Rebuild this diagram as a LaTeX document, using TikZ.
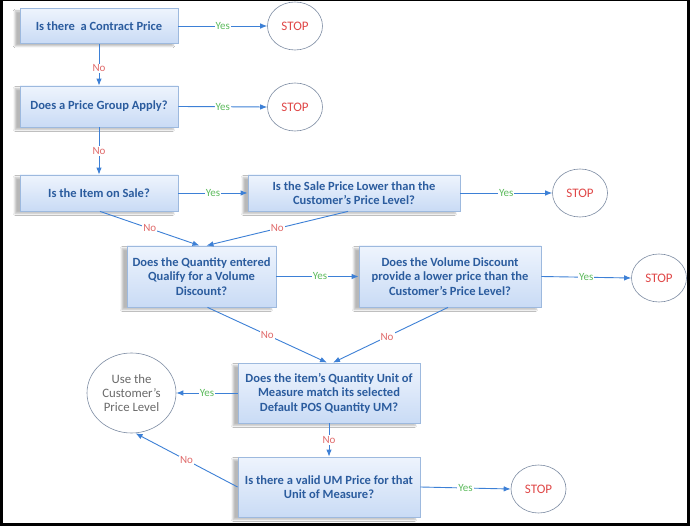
\documentclass[tikz,border=0pt]{standalone}
\usepackage{fontspec}
\setmainfont{Carlito}
\usetikzlibrary{arrows.meta,calc,shapes.geometric,shadows.blur}
\definecolor{boxtext}{HTML}{2B5C9E}
\definecolor{boxline}{HTML}{9DB9DE}
\definecolor{boxtop}{HTML}{EEF4FD}
\definecolor{boxbot}{HTML}{C9DBF5}
\definecolor{arrowc}{HTML}{3D80D6}
\definecolor{yesc}{HTML}{5DBB5D}
\definecolor{noc}{HTML}{E06A6A}
\definecolor{stopc}{HTML}{E04848}
\definecolor{circline}{HTML}{7D8CA3}
\definecolor{usetext}{HTML}{6A6A6A}
\begin{document}
\begin{tikzpicture}[x=1pt,y=-1pt,
  qbox/.style={draw=boxline, line width=0.8pt, top color=boxtop, bottom color=boxbot,
    minimum width=#1, inner sep=2pt, align=center, text=boxtext,
    font=\bfseries\fontsize{12.5}{14.5}\selectfont,
    blur shadow={shadow xshift=-5pt, shadow yshift=-2.5pt, shadow opacity=28, shadow blur steps=6}},
  stopnode/.style={draw=circline, line width=0.6pt, ellipse, fill=white,
    minimum width=55pt, minimum height=48pt, text=stopc, font=\fontsize{13}{14}\selectfont},
  conn/.style={draw=arrowc, line width=0.9pt, -{Latex[length=7pt,width=5.5pt]}},
  yes/.style={fill=white, text=yesc, inner sep=1pt, font=\fontsize{11}{12}\selectfont},
  no/.style={fill=white, text=noc, inner sep=1pt, font=\fontsize{11}{12}\selectfont}]
\useasboundingbox (0,0) rectangle (690,526);
\fill[black] (0,0) rectangle (690,526);
\fill[white] (3,1.5) rectangle (687,522.5);

\node[qbox=158pt, minimum height=35pt] (b1) at (99,26) {Is there\ \ a Contract Price};
\node[stopnode] (s1) at (295,26) {STOP};
\node[qbox=158pt, minimum height=41pt] (b2) at (99,106.5) {Does a Price Group Apply?};
\node[stopnode] (s2) at (295,107) {STOP};
\node[qbox=158pt, minimum height=36pt] (b3) at (99,193) {Is the Item on Sale?};
\node[qbox=212pt, minimum height=36pt] (b4) at (354,193) {Is the Sale Price Lower than the\\Customer’s Price Level?};
\node[stopnode] (s3) at (580,193) {STOP};
\node[qbox=149pt, minimum height=61pt] (b5) at (201.5,276.5) {Does the Quantity entered\\Qualify for a Volume\\Discount?};
\node[qbox=182pt, minimum height=61pt] (b6) at (450,276.5) {Does the Volume Discount\\provide a lower price than the\\Customer’s Price Level?};
\node[stopnode] (s4) at (659,278) {STOP};
\node[qbox=182pt, minimum height=60pt] (b7) at (329,393) {Does the item’s Quantity Unit of\\Measure match its selected\\Default POS Quantity UM?};
\node[draw=circline, line width=0.6pt, ellipse, fill=white, minimum width=89pt, minimum height=80pt, inner sep=0pt,
  align=center, text=usetext, font=\fontsize{12.8}{14}\selectfont] (u) at (131.5,393) {Use the\\Customer’s\\Price Level};
\node[qbox=182pt, minimum height=60pt] (b8) at (329,487) {Is there a valid UM Price for that\\Unit of Measure?};
\node[stopnode] (s5) at (538.5,489) {STOP};

\draw[conn] (b1.east) -- node[yes]{Yes} (s1.west);
\draw[conn] (b2.east) -- node[yes]{Yes} (s2.west);
\draw[conn] (b1.south) -- node[no, pos=0.58]{No} (b2.north);
\draw[conn] (b2.south) -- node[no]{No} (b3.north);
\draw[conn] (b3.east) -- node[yes]{Yes} (b4.west);
\draw[conn] (b4.east) -- node[yes]{Yes} (s3.west);
\draw[conn] ($(b3.south)+(1,0)$) -- node[no]{No} ($(b5.north)+(-2,0)$);
\draw[conn] ($(b4.south)+(-6,0)$) -- node[no]{No} ($(b5.north)+(5,0)$);
\draw[conn] (b5.east) -- node[yes, pos=0.53]{Yes} (b6.west);
\draw[conn] (b6.east) -- node[yes]{Yes} (s4.west);
\draw[conn] ($(b5.south)+(6,0)$) -- node[no]{No} ($(b7.north)+(-2,0)$);
\draw[conn] ($(b6.south)+(-2,0)$) -- node[no, pos=0.53]{No} ($(b7.north)+(4,0)$);
\draw[conn] (b7.west) -- node[yes]{Yes} (u.east);
\draw[conn] (b7.south) -- node[no]{No} (b8.north);
\draw[conn] (b8.west) -- node[no]{No} ($(u.south)+(4,0)$);
\draw[conn] (b8.east) -- node[yes]{Yes} (s5.west);
\end{tikzpicture}
\end{document}
